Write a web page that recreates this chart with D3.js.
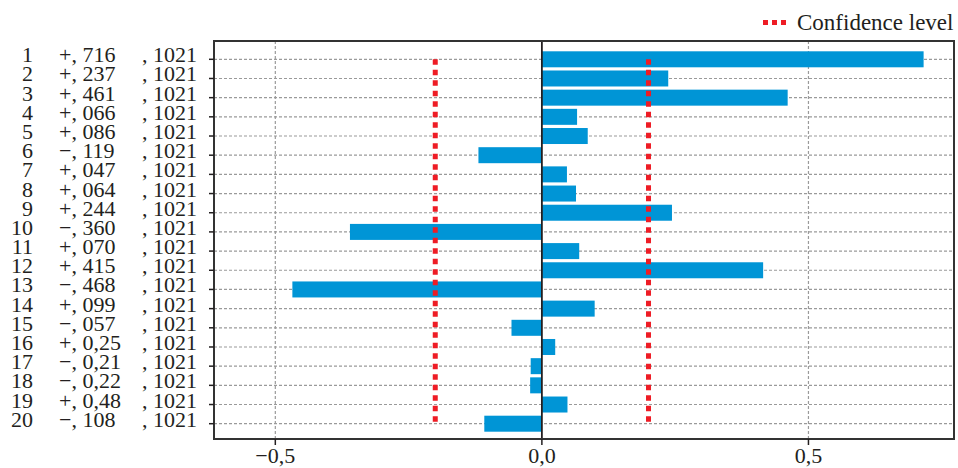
<!DOCTYPE html>
<html>
<head>
<meta charset="utf-8">
<script src="https://cdn.jsdelivr.net/npm/d3@7"></script>
<style>
  body { margin: 0; background: #fff; }
  text { font-family: "Liberation Serif", "DejaVu Serif", serif; fill: #231f20; }
</style>
</head>
<body>
<svg id="chart" width="958" height="468"></svg>
<script>
const rows = d3.range(1, 21)
const values = [0.716, 0.237, 0.461, 0.066, 0.086, -0.119, 0.047, 0.064, 0.244, -0.36,
  0.07, 0.415, -0.468, 0.099, -0.057, 0.025, -0.021, -0.022, 0.048, -0.108]
const signLabels = ["+, 716", "+, 237", "+, 461", "+, 066", "+, 086", "−, 119", "+, 047", "+, 064",
  "+, 244", "−, 360", "+, 070", "+, 415", "−, 468", "+, 099", "−, 057", "+, 0,25", "−, 0,21",
  "−, 0,22", "+, 0,48", "−, 108"]
const nLabels = rows.map(() => ", 1021")
const confidence = [-0.2, 0.2]
const xTicks = [-0.5, 0, 0.5]

const svg = d3.select("#chart")
const plot = { left: 214, right: 954, top: 41, bottom: 439 }

const x = d3.scaleLinear().domain([-0.615, 0.773]).range([plot.left, plot.right])
const y = d3.scalePoint().domain(rows).range([59.3, 423.7])
const barH = 16

const fmt = d3.formatLocale({ decimal: ",", thousands: ".", grouping: [3], currency: ["", ""], minus: "−" }).format(".1f")

// horizontal grid
svg.append("g")
  .selectAll("line")
  .data(rows)
  .join("line")
  .attr("x1", plot.left)
  .attr("x2", plot.right)
  .attr("y1", (d) => y(d))
  .attr("y2", (d) => y(d))
  .attr("stroke", "#9a9a9a")
  .attr("stroke-width", 1.2)
  .attr("stroke-dasharray", "3,2")

// vertical grid
svg.append("g")
  .selectAll("line")
  .data(xTicks.filter((t) => t !== 0))
  .join("line")
  .attr("x1", (d) => x(d))
  .attr("x2", (d) => x(d))
  .attr("y1", plot.top)
  .attr("y2", plot.bottom)
  .attr("stroke", "#9a9a9a")
  .attr("stroke-width", 1.2)
  .attr("stroke-dasharray", "3,2")

// bars
svg.append("g")
  .selectAll("rect")
  .data(values)
  .join("rect")
  .attr("x", (d) => x(Math.min(0, d)))
  .attr("width", (d) => Math.abs(x(d) - x(0)))
  .attr("y", (d, i) => y(rows[i]) - barH / 2)
  .attr("height", barH)
  .attr("fill", "#0095d6")

// zero line
svg.append("line")
  .attr("x1", x(0)).attr("x2", x(0))
  .attr("y1", plot.top).attr("y2", plot.bottom)
  .attr("stroke", "#231f20")
  .attr("stroke-width", 1.8)

// confidence lines
svg.append("g")
  .selectAll("line")
  .data(confidence)
  .join("line")
  .attr("x1", (d) => x(d))
  .attr("x2", (d) => x(d))
  .attr("y1", y(1))
  .attr("y2", y(20))
  .attr("stroke", "#ee1c25")
  .attr("stroke-width", 5)
  .attr("stroke-dasharray", "5.5,5")

// frame
svg.append("rect")
  .attr("x", plot.left)
  .attr("y", plot.top)
  .attr("width", plot.right - plot.left)
  .attr("height", plot.bottom - plot.top)
  .attr("fill", "none")
  .attr("stroke", "#333")
  .attr("stroke-width", 2)

// y ticks
svg.append("g")
  .selectAll("line")
  .data(rows)
  .join("line")
  .attr("x1", plot.left - 5)
  .attr("x2", plot.left)
  .attr("y1", (d) => y(d))
  .attr("y2", (d) => y(d))
  .attr("stroke", "#231f20")
  .attr("stroke-width", 1.5)

// row labels
const labels = svg.append("g").attr("font-size", 22)
labels.selectAll("text.idx")
  .data(rows)
  .join("text")
  .attr("class", "idx")
  .attr("x", 33)
  .attr("y", (d) => y(d) + 3)
  .attr("text-anchor", "end")
  .text((d) => d)
labels.selectAll("text.sign")
  .data(signLabels)
  .join("text")
  .attr("class", "sign")
  .attr("x", 59)
  .attr("y", (d, i) => y(rows[i]) + 3)
  .text((d) => d)
labels.selectAll("text.n")
  .data(nLabels)
  .join("text")
  .attr("class", "n")
  .attr("x", 197)
  .attr("y", (d, i) => y(rows[i]) + 3)
  .attr("text-anchor", "end")
  .text((d) => d)

// x axis ticks and labels
const xa = svg.append("g")
xa.selectAll("line")
  .data(xTicks)
  .join("line")
  .attr("x1", (d) => x(d))
  .attr("x2", (d) => x(d))
  .attr("y1", plot.bottom)
  .attr("y2", plot.bottom + 6)
  .attr("stroke", "#231f20")
  .attr("stroke-width", 1.5)
xa.selectAll("text")
  .data(xTicks)
  .join("text")
  .attr("x", (d) => x(d))
  .attr("y", 463)
  .attr("text-anchor", "middle")
  .attr("font-size", 22)
  .text((d) => fmt(d))

// legend
const lg = svg.append("g")
lg.append("line")
  .attr("x1", 763).attr("x2", 790)
  .attr("y1", 22.5).attr("y2", 22.5)
  .attr("stroke", "#ee1c25")
  .attr("stroke-width", 5)
  .attr("stroke-dasharray", "5,4")
lg.append("text")
  .attr("x", 797)
  .attr("y", 30)
  .attr("font-size", 23)
  .text("Confidence level")
</script>
</body>
</html>
